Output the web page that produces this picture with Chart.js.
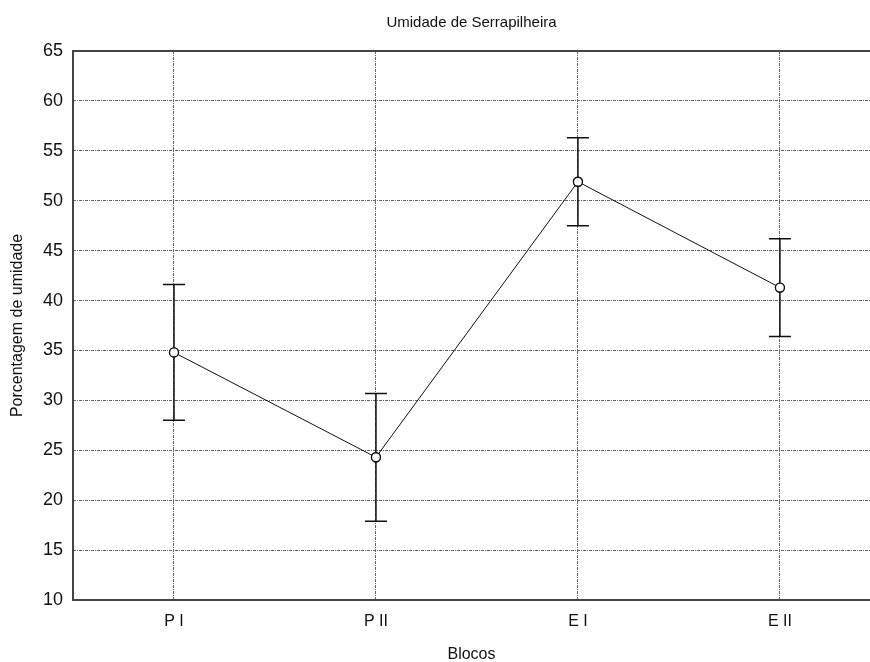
<!DOCTYPE html>
<html>
<head>
<meta charset="utf-8">
<script src="https://cdn.jsdelivr.net/npm/chart.js@4"></script>
<style>
  html, body { margin: 0; padding: 0; background: #fff; }
</style>
</head>
<body>
<canvas id="chart" width="870" height="662"></canvas>
<script>
// Dane
const blocos = ["P I", "P II", "E I", "E II"];
const medias = [34.8, 24.3, 51.9, 41.3];
const limiteSup = [41.6, 30.7, 56.3, 46.2];
const limiteInf = [28.0, 17.9, 47.5, 36.4];

// Barras de erro + moldura
const errorBars = {
  id: "errorBars",
  afterDatasetsDraw(chart) {
    const { ctx, scales: { x, y } } = chart;
    ctx.save();
    ctx.strokeStyle = "#111";
    ctx.lineWidth = 1.5;
    blocos.forEach((b, i) => {
      const px = x.getPixelForValue(i);
      const top = y.getPixelForValue(limiteSup[i]);
      const bot = y.getPixelForValue(limiteInf[i]);
      ctx.beginPath();
      ctx.moveTo(px, top); ctx.lineTo(px, bot);
      ctx.moveTo(px - 11, top); ctx.lineTo(px + 11, top);
      ctx.moveTo(px - 11, bot); ctx.lineTo(px + 11, bot);
      ctx.stroke();
    });
    ctx.restore();
  },
  afterDraw(chart) {
    const { ctx, chartArea: a } = chart;
    ctx.save();
    ctx.strokeStyle = "#444";
    ctx.lineWidth = 2;
    ctx.strokeRect(a.left, a.top, a.right - a.left + 5, a.bottom - a.top);
    ctx.restore();
  }
};

// Redesenha os pontos por cima das barras
const pointsOnTop = {
  id: "pointsOnTop",
  afterDatasetsDraw(chart) {
    chart.getDatasetMeta(0).data.forEach(p => p.draw(chart.ctx));
  }
};

new Chart(document.getElementById("chart"), {
  type: "line",
  data: {
    datasets: [{
      data: medias.map((v, i) => ({ x: i, y: v })),
      borderColor: "#111",
      borderWidth: 1,
      pointRadius: 4.5,
      pointBackgroundColor: "#fff",
      pointBorderColor: "#111",
      pointBorderWidth: 1.3,
      tension: 0,
      clip: false
    }]
  },
  options: {
    responsive: false,
    animation: false,
    layout: { autoPadding: false, padding: 0 },
    plugins: {
      legend: { display: false },
      tooltip: { enabled: false },
      title: {
        display: true,
        text: "Umidade de Serrapilheira",
        fullSize: false,
        color: "#111",
        font: { family: "Liberation Sans", size: 15, weight: "normal" },
        padding: { top: 14, bottom: 19 }
      }
    },
    scales: {
      x: {
        type: "linear",
        min: -0.5,
        max: 3.446, // o gráfico original é cortado à direita
        afterBuildTicks: s => { s.ticks = blocos.map((b, i) => ({ value: i })); },
        grid: { color: "#666", drawTicks: false },
        border: { display: false, dash: [3, 1, 1, 1] },
        ticks: {
          color: "#111", padding: 12, font: { family: "Liberation Sans", size: 16 },
          callback: v => blocos[v]
        },
        title: {
          display: true, text: "Blocos", color: "#111",
          font: { family: "Liberation Sans", size: 16 }, padding: { top: 4, bottom: -2 }
        },
        afterFit: s => { s.height = 62; }
      },
      y: {
        min: 10, max: 65,
        grid: { color: "#666", drawTicks: false },
        border: { display: false, dash: [3, 1, 1, 1] },
        ticks: { stepSize: 5, color: "#111", padding: 10, font: { family: "Liberation Sans", size: 18 } },
        title: {
          display: true, text: "Porcentagem de umidade", color: "#111",
          font: { family: "Liberation Sans", size: 16 }, padding: { top: 8, bottom: 5 }
        },
        afterFit: s => { s.width = 73; }
      }
    }
  },
  plugins: [errorBars, pointsOnTop]
});
</script>
</body>
</html>
